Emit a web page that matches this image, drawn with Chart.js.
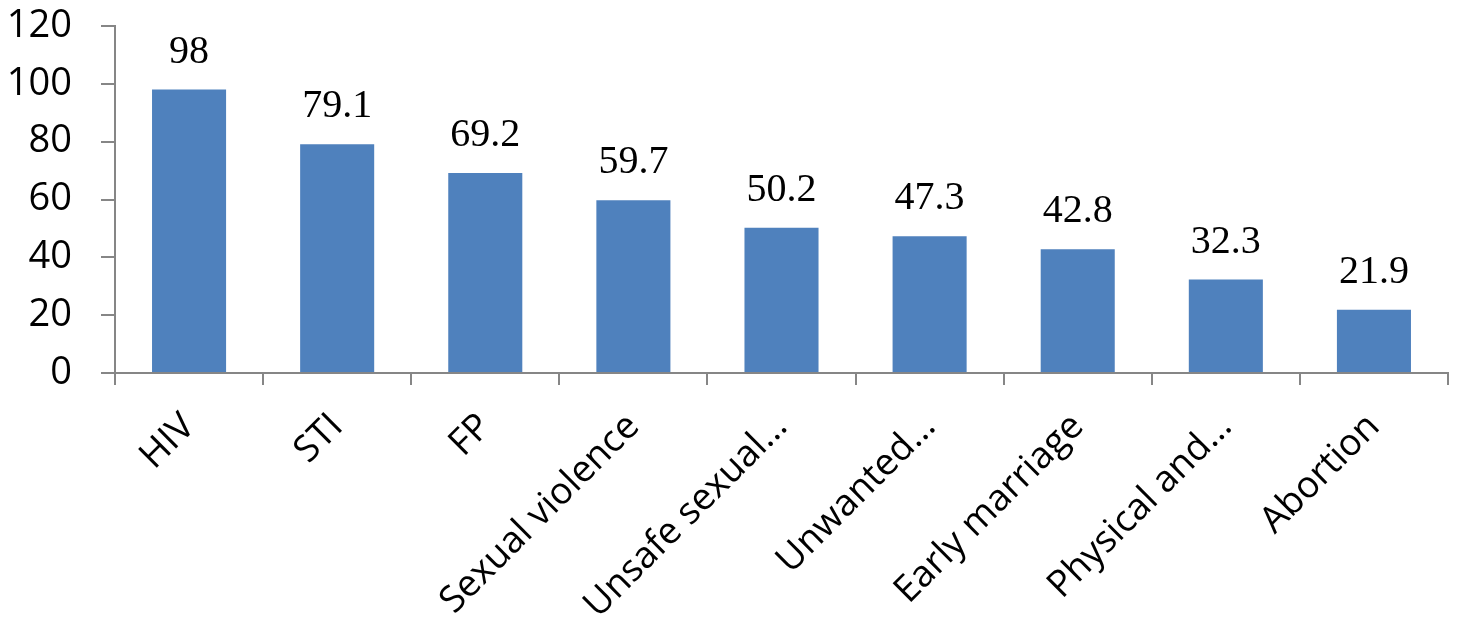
<!DOCTYPE html>
<html>
<head>
<meta charset="utf-8">
<script src="https://cdn.jsdelivr.net/npm/chart.js@4"></script>
<style>
  html, body { margin: 0; padding: 0; background: #fff; }
  #wrap { width: 1460px; height: 627px; }
</style>
</head>
<body>
<div id="wrap"><canvas id="bars"></canvas></div>
<script>
const categories = ['HIV', 'STI', 'FP', 'Sexual violence', 'Unsafe sexual…', 'Unwanted…', 'Early marriage', 'Physical and…', 'Abortion'];
const values = [98, 79.1, 69.2, 59.7, 50.2, 47.3, 42.8, 32.3, 21.9];
const yTicks = [0, 20, 40, 60, 80, 100, 120];

const axisGrey = '#868686';

// draws the numbers above each bar
const valueLabels = {
  id: 'valueLabels',
  afterDatasetsDraw(chart) {
    const ctx = chart.ctx;
    const meta = chart.getDatasetMeta(0);
    ctx.save();
    ctx.font = '40px "Liberation Serif", "Times New Roman", serif';
    ctx.fillStyle = '#000';
    ctx.textAlign = 'center';
    ctx.textBaseline = 'alphabetic';
    meta.data.forEach((bar, i) => {
      ctx.fillText(String(values[i]), bar.x, bar.y - 27);
    });
    ctx.restore();
  }
};

const ctx = document.getElementById('bars');

new Chart(ctx, {
  type: 'bar',
  data: {
    labels: categories,
    datasets: [{
      data: values,
      backgroundColor: '#4F81BD',
      borderWidth: 0,
      categoryPercentage: 0.5,
      barPercentage: 1
    }]
  },
  options: {
    responsive: true,
    maintainAspectRatio: false,
    animation: false,
    layout: { padding: { top: 26, right: 12, left: 0, bottom: 0 } },
    plugins: {
      legend: { display: false },
      tooltip: { enabled: false }
    },
    scales: {
      x: {
        grid: {
          offset: true,
          drawOnChartArea: false,
          drawTicks: true,
          tickLength: 12,
          color: axisGrey,
          lineWidth: 2
        },
        border: { color: axisGrey, width: 2 },
        ticks: {
          autoSkip: false,
          maxRotation: 45,
          minRotation: 45,
          padding: 20,
          color: '#000',
          font: { family: '"Open Sans", sans-serif', size: 37 }
        },
        afterFit(scale) {
          scale.height = 254;
          scale.paddingLeft = 0;
          scale.paddingRight = 0;
        }
      },
      y: {
        min: 0,
        max: 120,
        afterBuildTicks(scale) {
          scale.ticks = yTicks.map(v => ({ value: v }));
        },
        grid: {
          drawOnChartArea: false,
          drawTicks: true,
          tickLength: 14,
          color: axisGrey,
          lineWidth: 2
        },
        border: { color: axisGrey, width: 2 },
        ticks: {
          padding: 29,
          color: '#000',
          font: { family: '"Open Sans", sans-serif', size: 38 }
        },
        afterFit(scale) {
          scale.width = 115;
          scale.paddingTop = 0;
          scale.paddingBottom = 0;
        }
      }
    }
  },
  plugins: [valueLabels]
});
</script>
</body>
</html>
